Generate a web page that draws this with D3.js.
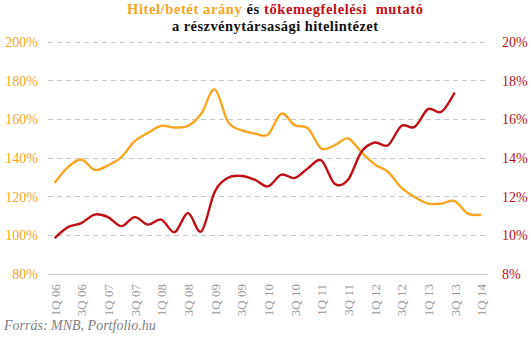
<!DOCTYPE html>
<html>
<head>
<meta charset="utf-8">
<script src="https://cdn.jsdelivr.net/npm/d3@7"></script>
<style>
  html, body { margin: 0; padding: 0; background: #fff; }
  svg { display: block; }
  text { font-family: "Liberation Serif", "DejaVu Serif", serif; }
</style>
</head>
<body>
<div id="chart"></div>
<script>
// Quarters from 1Q 2006 to 1Q 2014
const quarters = [
  "1Q 06","2Q 06","3Q 06","4Q 06",
  "1Q 07","2Q 07","3Q 07","4Q 07",
  "1Q 08","2Q 08","3Q 08","4Q 08",
  "1Q 09","2Q 09","3Q 09","4Q 09",
  "1Q 10","2Q 10","3Q 10","4Q 10",
  "1Q 11","2Q 11","3Q 11","4Q 11",
  "1Q 12","2Q 12","3Q 12","4Q 12",
  "1Q 13","2Q 13","3Q 13","4Q 13",
  "1Q 14"
];

// Loan-to-deposit ratio, % (left axis)
const loanToDeposit = [
  126.9, 135.1, 139.0, 133.6,
  136.0, 140.3, 148.5, 152.8,
  156.4, 155.6, 156.4, 162.8,
  175.3, 158.5, 154.2, 152.5,
  152.0, 162.8, 156.8, 155.1,
  144.7, 146.4, 149.9, 142.9,
  136.5, 132.6, 124.5, 119.6,
  116.2, 116.2, 117.5, 111.0,
  110.5
];

// Capital adequacy ratio, % (right axis), through 3Q 13
const capitalAdequacy = [
  9.83, 10.40, 10.61, 11.05,
  10.92, 10.45, 10.92, 10.53,
  10.79, 10.14, 11.13, 10.18,
  12.22, 12.96, 13.05, 12.86,
  12.51, 13.12, 12.94, 13.45,
  13.85, 12.65, 12.85, 14.29,
  14.78, 14.64, 15.64, 15.59,
  16.51, 16.37, 17.37
];

const leftTicks = [80, 100, 120, 140, 160, 180, 200];
const rightTicks = [8, 10, 12, 14, 16, 18, 20];

const W = 531, H = 342;
const ORANGE = "#f8a521";
const RED = "#bf1018";

const svg = d3.select("#chart").append("svg")
  .attr("width", W).attr("height", H);

const x = d3.scalePoint().domain(quarters).range([48, 488]).padding(0.5);
const yL = d3.scaleLinear().domain([80, 200]).range([273.5, 41.7]);
const yR = d3.scaleLinear().domain([8, 20]).range([273.5, 41.7]);

// Horizontal gridlines (dashed), solid baseline at the bottom
const grid = svg.append("g");
leftTicks.forEach(t => {
  grid.append("line")
    .attr("x1", 48).attr("x2", 488)
    .attr("y1", Math.round(yL(t)) + 0.5).attr("y2", Math.round(yL(t)) + 0.5)
    .attr("stroke", "#c8c8c8")
    .attr("stroke-width", 1)
    .attr("stroke-dasharray", t === 80 ? null : "5,4");
});

// Left axis (loan-to-deposit)
const leftAxis = d3.axisLeft(yL).tickValues(leftTicks).tickSize(0).tickPadding(0)
  .tickFormat(d => d + "%");
const gL = svg.append("g").attr("transform", "translate(38,0)").call(leftAxis);
gL.select(".domain").remove();
gL.selectAll("text")
  .attr("fill", ORANGE)
  .style("font-size", "14px")
  .attr("dy", "0.35em");

// Right axis (capital adequacy)
const rightAxis = d3.axisRight(yR).tickValues(rightTicks).tickSize(0).tickPadding(0)
  .tickFormat(d => d + "%");
const gR = svg.append("g").attr("transform", "translate(502,0)").call(rightAxis);
gR.select(".domain").remove();
gR.selectAll("text")
  .attr("fill", RED)
  .style("font-size", "14px")
  .attr("dy", "0.35em");

// Category axis: every second quarter, rotated labels
const shown = quarters.filter((q, i) => i % 2 === 0);
const xAxis = d3.axisBottom(x).tickValues(shown).tickSize(0).tickPadding(0);
const gX = svg.append("g").attr("transform", "translate(0,284)").call(xAxis);
gX.select(".domain").remove();
gX.selectAll("text")
  .attr("fill", "#9a9a9a")
  .style("font-size", "13px")
  .attr("text-anchor", "end")
  .attr("transform", "rotate(-90)")
  .attr("x", 0).attr("y", 0)
  .attr("dy", "0.35em");

// Smoothed lines
const curve = d3.curveCardinal.tension(0);

const lineL = d3.line()
  .x((d, i) => x(quarters[i]))
  .y(d => yL(d))
  .curve(curve);

const lineR = d3.line()
  .x((d, i) => x(quarters[i]))
  .y(d => yR(d))
  .curve(curve);

svg.append("path")
  .datum(loanToDeposit)
  .attr("d", lineL)
  .attr("fill", "none")
  .attr("stroke", ORANGE)
  .attr("stroke-width", 2.4)
  .attr("stroke-linejoin", "round");

svg.append("path")
  .datum(capitalAdequacy)
  .attr("d", lineR)
  .attr("fill", "none")
  .attr("stroke", RED)
  .attr("stroke-width", 2.4)
  .attr("stroke-linejoin", "round");

// Title, two lines
const title = svg.append("g").style("font-weight", "bold").style("font-size", "14.5px");
const t1 = title.append("text")
  .attr("x", 275).attr("y", 14)
  .attr("text-anchor", "middle")
  .attr("textLength", 296)
  .attr("lengthAdjust", "spacing")
  .style("white-space", "pre");
t1.append("tspan").attr("fill", ORANGE).text("Hitel/betét arány ");
t1.append("tspan").attr("fill", "#111").text("és ");
t1.append("tspan").attr("fill", RED).text("tőkemegfelelési  mutató");

title.append("text")
  .attr("x", 275).attr("y", 30.5)
  .attr("text-anchor", "middle")
  .attr("textLength", 206)
  .attr("lengthAdjust", "spacing")
  .attr("fill", "#111")
  .text("a részvénytársasági hitelintézet");

// Source note
svg.append("text")
  .attr("x", 4).attr("y", 330)
  .attr("fill", "#808080")
  .style("font-style", "italic")
  .style("font-size", "14px")
  .text("Forrás: MNB, Portfolio.hu");
</script>
</body>
</html>
